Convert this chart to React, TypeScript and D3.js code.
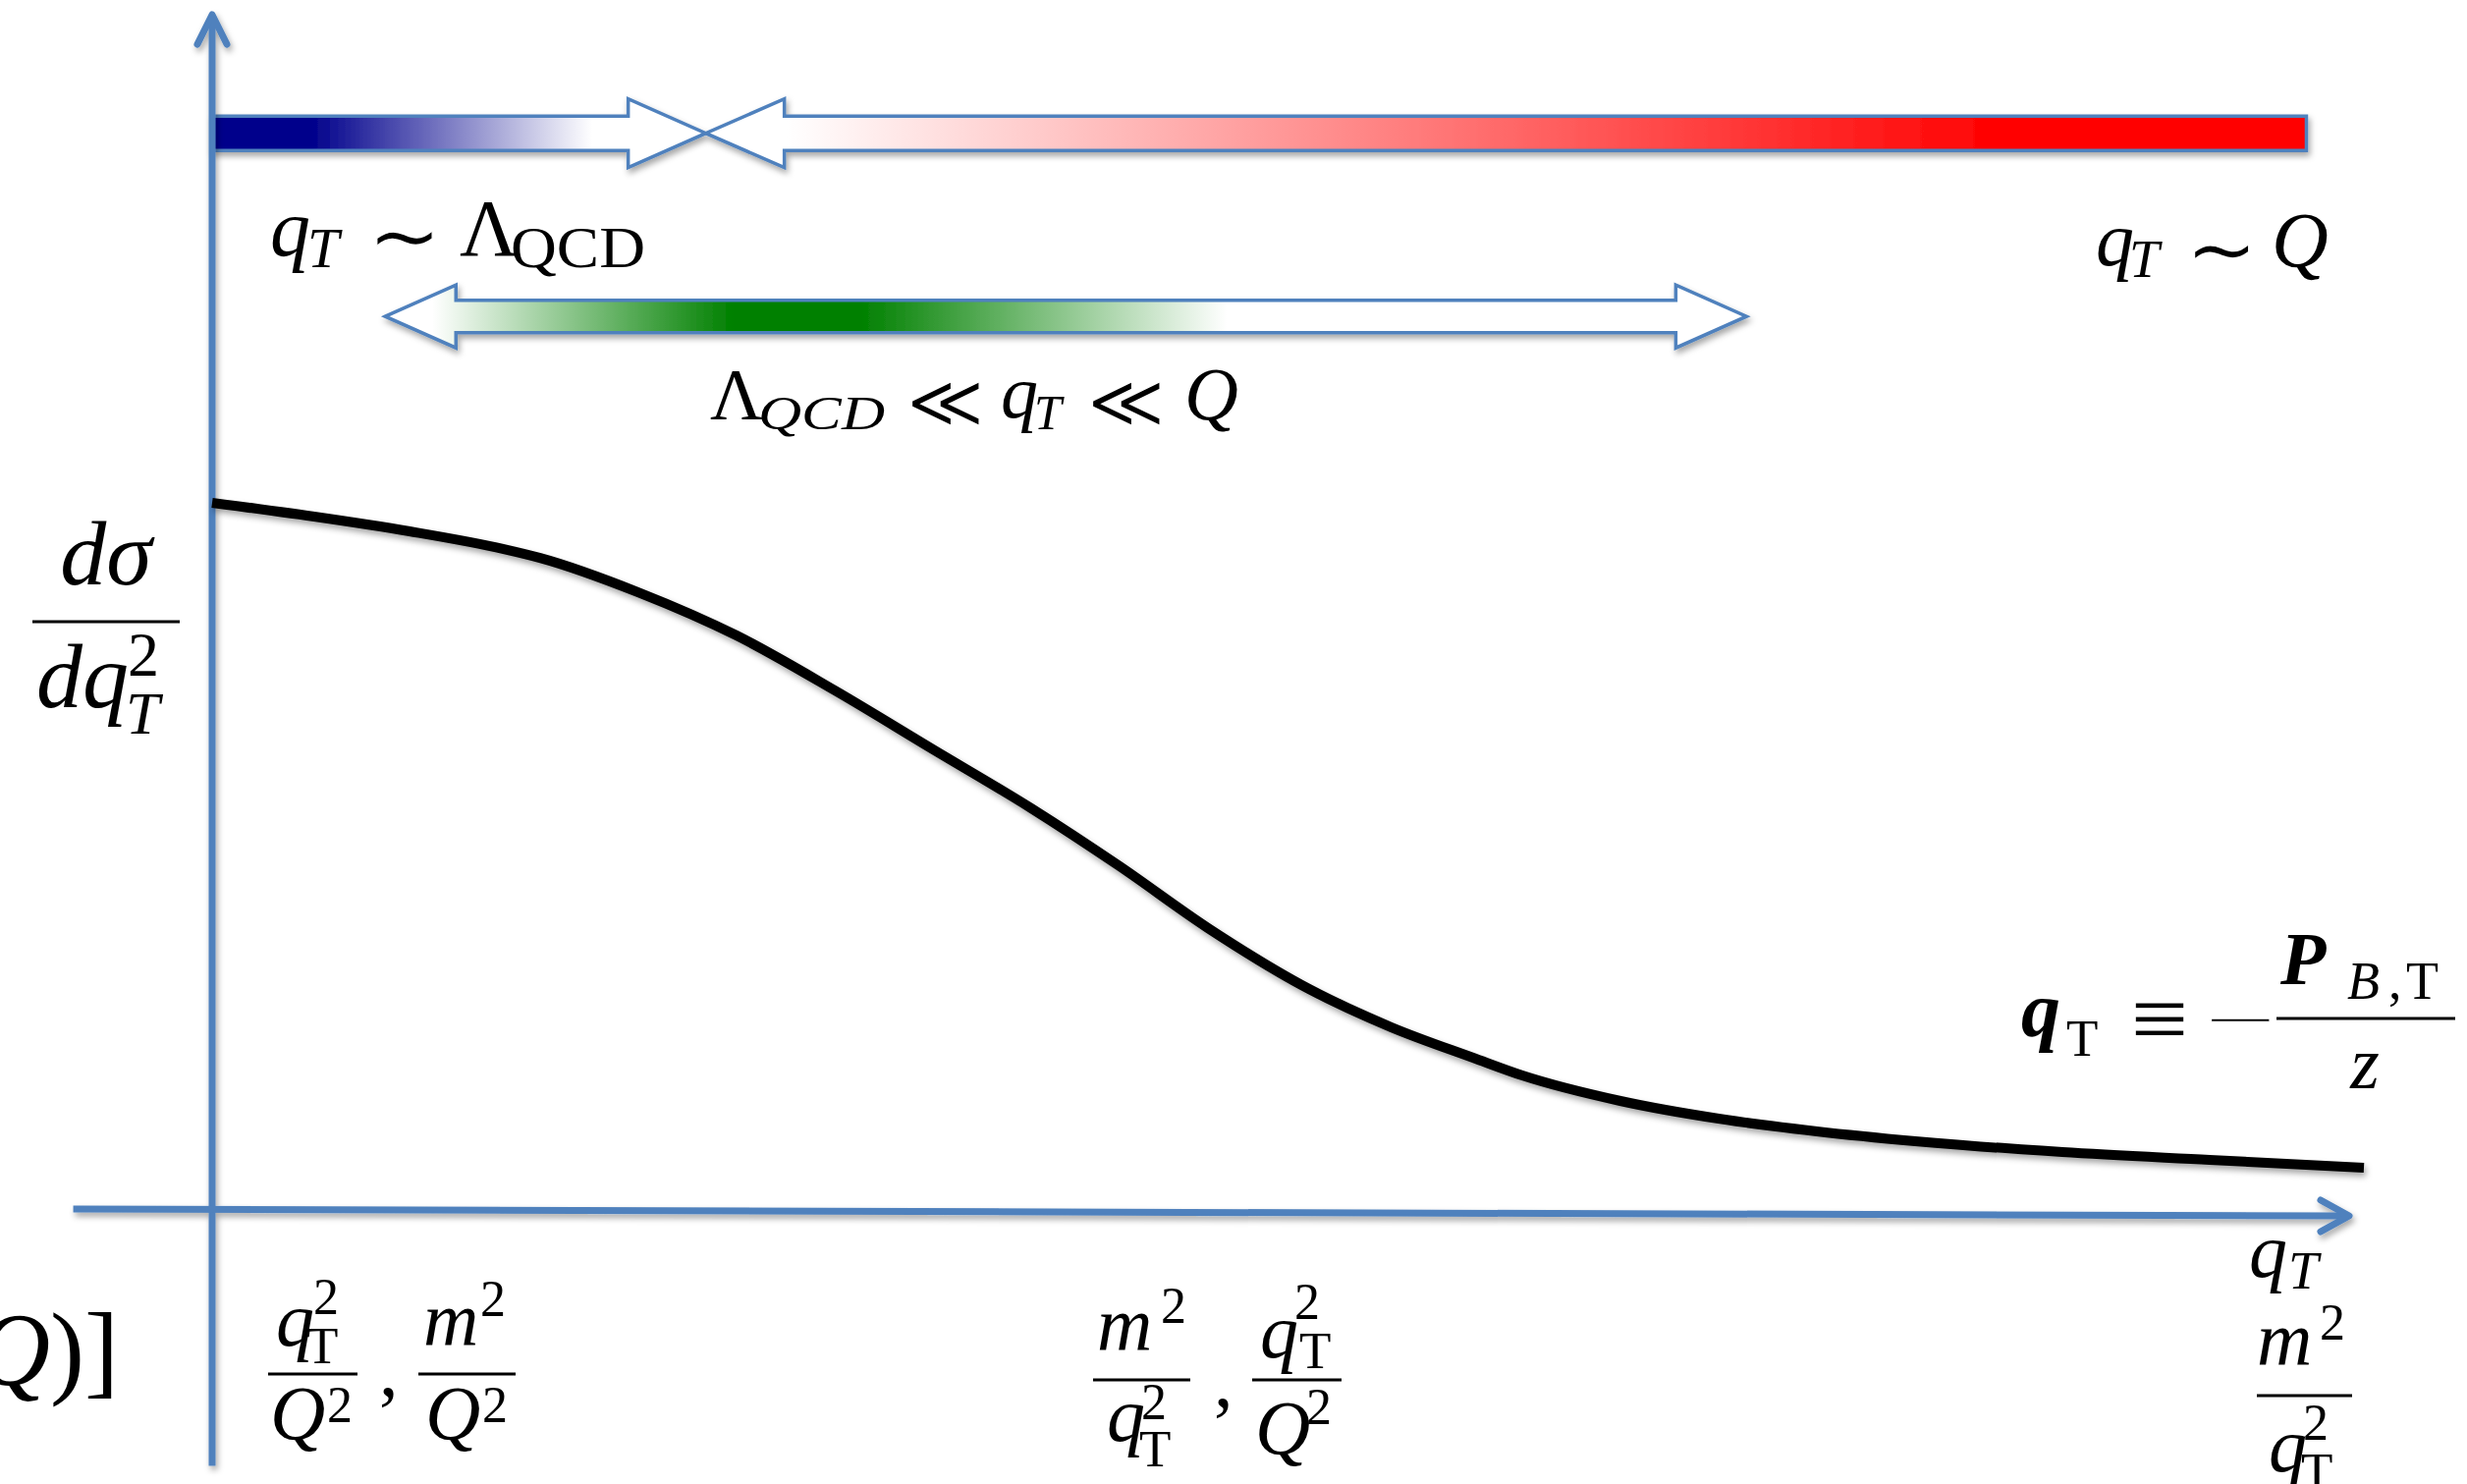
import React from "react";
import * as d3 from "d3";

const W = 2512;
const H = 1511;

// Schematic transverse-momentum spectrum: q_T (arbitrary units, 0 at the vertical axis)
const CURVE_QT = [0, 4.78, 9.24, 13.65, 15.35, 19.94, 24.54, 29.14, 33.73, 38.33, 42.46, 46.6, 51.33, 55.19, 59.01, 61.31, 65.9, 70.5, 75.09, 79.69, 86.58, 93.47, 100.69];
// dσ/dq_T² (arbitrary units)
const CURVE_XSEC = [59.23, 58.08, 56.85, 55.37, 54.63, 51.76, 48.15, 43.56, 38.64, 33.72, 28.88, 23.71, 18.62, 15.42, 12.88, 11.4, 9.27, 7.79, 6.73, 5.91, 5.0, 4.35, 3.69];

// Regime arrows along q_T
const NP_RANGE = [0, 23.1]; // q_T ~ Λ_QCD, points right
const PERT_RANGE = [98.0, 23.1]; // q_T ~ Q, points left
const MATCH_RANGE = [8.1, 71.8]; // Λ_QCD ≪ q_T ≪ Q, double-headed
const BAR_LEVEL = 90.1;
const MATCH_LEVEL = 74.8;
// Colour fades along q_T
const NP_FADE = [4.6, 17.8]; // navy until, white from
const PERT_FADE = [26.9, 83.9]; // white until, red from
const MATCH_FADE = [10.3, 24.4, 30.3, 47.5]; // white, green, green, white

// Axis extents
const AXIS_H = [-6.5, 100];
const AXIS_V = [-21.2, 100];

const x = d3.scaleLinear().domain([0, 100]).range([216, 2392]);
const y = d3.scaleLinear().domain([0, 100]).range([1234, 15]);

const AXIS_BLUE = "#4F81BD";
const FONT = "'Liberation Serif', 'Times New Roman', 'DejaVu Serif', serif";
const SYM = "'DejaVu Sans', 'Noto Sans', sans-serif";

function arrowPath(x0: number, x1: number, yc: number, hs: number, hh: number, hl: number) {
  const dir = x1 > x0 ? 1 : -1;
  const b = x1 - dir * hl;
  const p = d3.path();
  p.moveTo(x0, yc - hs);
  p.lineTo(b, yc - hs);
  p.lineTo(b, yc - hh);
  p.lineTo(x1, yc);
  p.lineTo(b, yc + hh);
  p.lineTo(b, yc + hs);
  p.lineTo(x0, yc + hs);
  p.closePath();
  return p.toString();
}

function doubleArrowPath(xl: number, xr: number, yc: number, hs: number, hh: number, hl: number) {
  const p = d3.path();
  p.moveTo(xl, yc);
  p.lineTo(xl + hl, yc - hh);
  p.lineTo(xl + hl, yc - hs);
  p.lineTo(xr - hl, yc - hs);
  p.lineTo(xr - hl, yc - hh);
  p.lineTo(xr, yc);
  p.lineTo(xr - hl, yc + hh);
  p.lineTo(xr - hl, yc + hs);
  p.lineTo(xl + hl, yc + hs);
  p.lineTo(xl + hl, yc + hh);
  p.closePath();
  return p.toString();
}

type TProps = {
  x: number;
  y: number;
  s: number;
  it?: boolean;
  b?: boolean;
  sym?: boolean;
  light?: boolean;
  thin?: boolean;
  anchor?: "start" | "middle" | "end";
  len?: number;
  children: React.ReactNode;
};

function T({ x: tx, y: ty, s, it, b, sym, light, thin, anchor, len, children }: TProps) {
  return (
    <text
      x={tx}
      y={ty}
      fontSize={s}
      fontFamily={sym ? SYM : undefined}
      fontStyle={it ? "italic" : "normal"}
      fontWeight={b ? "bold" : light ? 200 : "normal"}
      stroke={thin ? "#fff" : undefined}
      strokeWidth={thin ? 1.2 : undefined}
      textAnchor={anchor || "start"}
      textLength={len}
      lengthAdjust={len ? "spacingAndGlyphs" : undefined}
    >
      {children}
    </text>
  );
}

function Bar({ x1, x2, y0 }: { x1: number; x2: number; y0: number }) {
  return <line x1={x1} x2={x2} y1={y0} y2={y0} stroke="#000" strokeWidth={3} />;
}

export default function App() {
  const line = d3
    .line<number>()
    .x((_, i) => x(CURVE_QT[i]))
    .y((d) => y(d))
    .curve(d3.curveMonotoneX);

  const barY = y(BAR_LEVEL);
  const matchY = y(MATCH_LEVEL);

  const hAxisY0 = y(0.25);
  const hAxisY1 = y(-0.33);
  const hTipX = x(AXIS_H[1]);
  const vTipY = y(AXIS_V[1]);
  const vx = x(0);

  const mSpan = x(MATCH_FADE[3]) - x(MATCH_FADE[0]);

  return (
    <svg
      width={W}
      height={H}
      viewBox={`0 0 ${W} ${H}`}
      style={{ position: "absolute", left: 0, top: 0, background: "#fff" }}
      fontFamily={FONT}
    >
      <defs>
        <filter id="shadow" x="-5%" y="-20%" width="110%" height="160%">
          <feDropShadow dx="2" dy="4" stdDeviation="3" floodColor="#000" floodOpacity="0.35" />
        </filter>
        <linearGradient id="npGrad" gradientUnits="userSpaceOnUse" x1={x(NP_FADE[0])} x2={x(NP_FADE[1])} y1={0} y2={0}>
          <stop offset="0" stopColor="#00008B" />
          <stop offset="1" stopColor="#ffffff" />
        </linearGradient>
        <linearGradient id="pertGrad" gradientUnits="userSpaceOnUse" x1={x(PERT_FADE[0])} x2={x(PERT_FADE[1])} y1={0} y2={0}>
          <stop offset="0" stopColor="#ffffff" />
          <stop offset="1" stopColor="#FF0000" />
        </linearGradient>
        <linearGradient id="matchGrad" gradientUnits="userSpaceOnUse" x1={x(MATCH_FADE[0])} x2={x(MATCH_FADE[3])} y1={0} y2={0}>
          <stop offset="0" stopColor="#ffffff" />
          <stop offset={(x(MATCH_FADE[1]) - x(MATCH_FADE[0])) / mSpan} stopColor="#008000" />
          <stop offset={(x(MATCH_FADE[2]) - x(MATCH_FADE[0])) / mSpan} stopColor="#008000" />
          <stop offset="1" stopColor="#ffffff" />
        </linearGradient>
      </defs>

      {/* regime arrows */}
      <g filter="url(#shadow)" stroke={AXIS_BLUE} strokeWidth={3.5} strokeLinejoin="miter">
        <path d={arrowPath(x(PERT_RANGE[0]), x(PERT_RANGE[1]), barY, 17.5, 35, 80)} fill="url(#pertGrad)" />
        <path d={arrowPath(x(NP_RANGE[0]), x(NP_RANGE[1]), barY, 17.5, 35, 79)} fill="url(#npGrad)" />
        <path d={doubleArrowPath(x(MATCH_RANGE[0]), x(MATCH_RANGE[1]), matchY, 16.5, 32, 72)} fill="url(#matchGrad)" />
      </g>

      {/* axes */}
      <g filter="url(#shadow)" stroke={AXIS_BLUE} strokeWidth={7} fill="none" strokeLinecap="round" strokeLinejoin="round">
        <line x1={vx} x2={vx} y1={y(AXIS_V[0])} y2={vTipY + 3} strokeLinecap="butt" />
        <polyline points={`${vx - 15},${vTipY + 30} ${vx},${vTipY} ${vx + 15},${vTipY + 30}`} />
        <line x1={x(AXIS_H[0])} x2={hTipX - 3} y1={hAxisY0} y2={hAxisY1} strokeLinecap="butt" />
        <polyline points={`${hTipX - 29},${hAxisY1 - 16} ${hTipX},${hAxisY1} ${hTipX - 29},${hAxisY1 + 16}`} />
      </g>

      {/* spectrum */}
      <path d={line(CURVE_XSEC) || ""} fill="none" stroke="#000" strokeWidth={10} filter="url(#shadow)" />

      <g fill="#000">
        {/* q_T ~ Λ_QCD */}
        <T x={275} y={260} s={82} it>q</T>
        <T x={313} y={272} s={58} it>T</T>
        <T x={412} y={271} s={90} sym thin anchor="middle">∼</T>
        <T x={468} y={260} s={82}>Λ</T>
        <T x={520} y={272} s={60} len={137}>QCD</T>

        {/* Λ_QCD ≪ q_T ≪ Q */}
        <T x={723} y={427} s={74}>Λ</T>
        <T x={772} y={437} s={48} it len={129}>QCD</T>
        <T x={963} y={435} s={76} sym light thin anchor="middle">≪</T>
        <T x={1019} y={425} s={76} it>q</T>
        <T x={1053} y={437} s={50} it>T</T>
        <T x={1147} y={435} s={76} sym light thin anchor="middle">≪</T>
        <T x={1206} y={427} s={76} it>Q</T>

        {/* q_T ~ Q */}
        <T x={2134} y={270} s={78} it>q</T>
        <T x={2168} y={282} s={55} it>T</T>
        <T x={2262} y={284} s={88} sym thin anchor="middle">∼</T>
        <T x={2313} y={272} s={80} it>Q</T>

        {/* dσ / dq_T² */}
        <T x={108} y={595} s={94} it anchor="middle">dσ</T>
        <Bar x1={33} x2={183} y0={633} />
        <T x={37} y={720} s={94} it>dq</T>
        <T x={130} y={688} s={64}>2</T>
        <T x={128} y={747} s={62} it>T</T>

        {/* ... (Q)] */}
        <text x={121} y={1410} fontSize={105} textAnchor="end">
          <tspan fontStyle="italic">Q</tspan>
          <tspan>)]</tspan>
        </text>

        {/* q_T²/Q², m²/Q² */}
        <T x={281} y={1370} s={78} it>q</T>
        <T x={319} y={1338} s={52}>2</T>
        <T x={312} y={1388} s={53}>T</T>
        <Bar x1={273} x2={364} y0={1399} />
        <T x={275} y={1465} s={78} it>Q</T>
        <T x={333} y={1448} s={52}>2</T>
        <T x={386} y={1421} s={78}>,</T>
        <T x={431} y={1370} s={78} it>m</T>
        <T x={489} y={1340} s={52}>2</T>
        <Bar x1={426} x2={525} y0={1399} />
        <T x={433} y={1465} s={78} it>Q</T>
        <T x={491} y={1448} s={52}>2</T>

        {/* m²/q_T², q_T²/Q² */}
        <T x={1117} y={1375} s={78} it>m</T>
        <T x={1182} y={1347} s={52}>2</T>
        <Bar x1={1113} x2={1212} y0={1405} />
        <T x={1127} y={1467} s={78} it>q</T>
        <T x={1162} y={1445} s={52}>2</T>
        <T x={1160} y={1493} s={53}>T</T>
        <T x={1236} y={1432} s={78}>,</T>
        <T x={1283} y={1382} s={78} it>q</T>
        <T x={1318} y={1343} s={52}>2</T>
        <T x={1323} y={1393} s={53}>T</T>
        <Bar x1={1275} x2={1366} y0={1405} />
        <T x={1278} y={1480} s={78} it>Q</T>
        <T x={1330} y={1450} s={52}>2</T>

        {/* q_T at the axis end and m²/q_T² */}
        <T x={2290} y={1300} s={78} it>q</T>
        <T x={2330} y={1312} s={55} it>T</T>
        <T x={2298} y={1390} s={78} it>m</T>
        <T x={2362} y={1364} s={52}>2</T>
        <Bar x1={2298} x2={2395} y0={1421} />
        <T x={2310} y={1498} s={78} it>q</T>
        <T x={2345} y={1466} s={52}>2</T>
        <T x={2343} y={1516} s={53}>T</T>

        {/* q_T ≡ −P_{B,T}/z */}
        <T x={2058} y={1055} s={80} it b>q</T>
        <T x={2104} y={1075} s={53}>T</T>
        <T x={2199} y={1064} s={80} sym light thin anchor="middle" len={60}>≡</T>
        <T x={2281} y={1064} s={80} sym light thin anchor="middle" len={80}>−</T>
        <Bar x1={2318} x2={2500} y0={1037} />
        <T x={2322} y={1002} s={76} it b>P</T>
        <T x={2390} y={1017} s={54} it>B</T>
        <T x={2432} y={1017} s={54}>,</T>
        <T x={2450} y={1017} s={54}>T</T>
        <T x={2408} y={1108} s={76} it anchor="middle">z</T>
      </g>
    </svg>
  );
}
